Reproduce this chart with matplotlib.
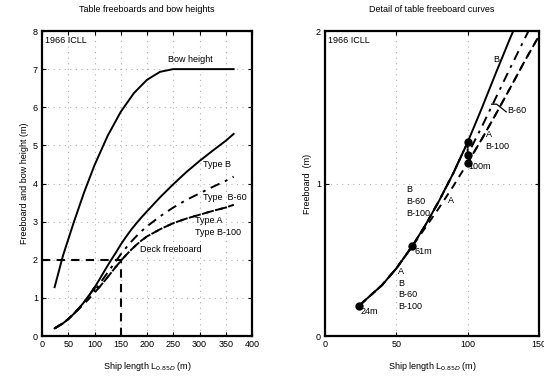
import matplotlib
matplotlib.use("Agg")
import matplotlib.pyplot as plt

plt.rcParams['font.family'] = ['Liberation Sans', 'DejaVu Sans']
plt.rcParams['font.size'] = 6.5

# ship length (m)
length = [24, 30, 40, 50, 61, 70, 80, 90, 100, 110, 120, 130, 140, 150,
          160, 170, 180, 190, 200, 225, 250, 275, 300, 325, 350, 365]
# bow height (m)
bow_length = [24, 40, 60, 80, 100, 125, 150, 175, 200, 225, 250, 300, 365]
bow_height = [1.28, 2.11, 2.96, 3.76, 4.48, 5.25, 5.88, 6.37, 6.72, 6.93, 7.0, 7.0, 7.0]
# table freeboards (m)
type_b = [0.200, 0.250, 0.334, 0.443, 0.587, 0.721, 0.887, 1.069, 1.271, 1.496,
          1.730, 1.958, 2.171, 2.400, 2.600, 2.790, 2.960, 3.120, 3.270, 3.64,
          3.98, 4.30, 4.59, 4.86, 5.12, 5.30]
type_a = [0.200, 0.250, 0.334, 0.443, 0.587, 0.706, 0.841, 0.984, 1.135, 1.293,
          1.459, 1.630, 1.803, 1.968, 2.122, 2.264, 2.394, 2.511, 2.612, 2.80,
          2.96, 3.08, 3.18, 3.28, 3.37, 3.44]
# B-60 / B-100 jump at 100 m
reduced_length = [24, 30, 40, 50, 61, 70, 80, 90, 100, 100, 110, 120, 130, 140,
                  150, 160, 170, 180, 190, 200, 225, 250, 275, 300, 325, 350, 365]
type_b60 = [0.200, 0.250, 0.334, 0.443, 0.587, 0.721, 0.887, 1.069, 1.271, 1.189,
            1.374, 1.567, 1.761, 1.950, 2.141, 2.313, 2.474, 2.620, 2.755, 2.875,
            3.14, 3.37, 3.57, 3.74, 3.91, 4.07, 4.18]
type_b100 = [0.200, 0.250, 0.334, 0.443, 0.587, 0.721, 0.887, 1.069, 1.271, 1.135,
             1.293, 1.459, 1.630, 1.803, 1.968, 2.122, 2.264, 2.394, 2.511, 2.612,
             2.80, 2.96, 3.08, 3.18, 3.28, 3.37, 3.44]
# marked points on the detail plot
mark_length = [24, 61, 100, 100, 100]
mark_freeboard = [0.200, 0.587, 1.271, 1.189, 1.135]

fig = plt.figure(figsize=(5.44, 3.78), dpi=100)
ax1 = fig.add_axes([42 / 544, 42 / 378, 210 / 544, 305 / 378])
ax2 = fig.add_axes([325 / 544, 42 / 378, 214 / 544, 305 / 378])

grid_kw = dict(color='#b0b0b0', linestyle=(0, (1, 4)), linewidth=0.8)


def draw_curves(ax):
    ax.plot(length, type_b, color='black', lw=1.4, ls='-')
    ax.plot(reduced_length, type_b60, color='black', lw=1.4, ls=(0, (5, 3, 1.5, 3)))
    ax.plot(length, type_a, color='black', lw=1.4, ls=(0, (4, 3)))
    ax.plot(reduced_length, type_b100, color='black', lw=1.4, ls=(0, (4, 3)))


def style_axes(ax):
    ax.grid(True, **grid_kw)
    ax.tick_params(direction='in', length=3, width=0.8, labelsize=6.5, pad=3,
                   top=True, right=True)
    for s in ax.spines.values():
        s.set_linewidth(1.6)


# left panel
draw_curves(ax1)
ax1.plot(bow_length, bow_height, color='black', lw=1.4)
ax1.plot([0, 150], [2, 2], color='black', lw=1.5, ls=(0, (4, 3)))
ax1.plot([150, 150], [0, 2], color='black', lw=1.5, ls=(0, (4, 3)))
ax1.set_xlim(0, 400)
ax1.set_ylim(0, 8)
ax1.set_xticks(range(0, 401, 50))
ax1.set_yticks(range(0, 9))
style_axes(ax1)
ax1.set_title('Table freeboards and bow heights', fontsize=6.5, pad=14)
ax1.set_xlabel('Ship length L$_{0.85D}$ (m)', fontsize=6.5, labelpad=8)
ax1.set_ylabel('Freeboard and bow height (m)', fontsize=6.5, labelpad=3)
ax1.text(5, 7.88, '1966 ICLL', va='top', ha='left')
ax1.text(240, 7.25, 'Bow height', va='center', ha='left')
ax1.text(306, 4.49, 'Type B', va='center', ha='left')
ax1.text(306, 3.64, 'Type  B-60', va='center', ha='left')
ax1.text(291, 3.02, 'Type A', va='center', ha='left')
ax1.text(291, 2.71, 'Type B-100', va='center', ha='left')
ax1.text(187, 2.27, 'Deck freeboard', va='center', ha='left')

# right panel
draw_curves(ax2)
ax2.plot(mark_length, mark_freeboard, 'o', color='black', ms=5)
ax2.plot([116.8, 120.3, 127.0], [1.52, 1.52, 1.47], color='black', lw=0.9)
ax2.set_xlim(0, 150)
ax2.set_ylim(0, 2)
ax2.set_xticks([0, 50, 100, 150])
ax2.set_yticks([0, 1, 2])
style_axes(ax2)
ax2.set_title('Detail of table freeboard curves', fontsize=6.5, pad=14)
ax2.set_xlabel('Ship length L$_{0.85D}$ (m)', fontsize=6.5, labelpad=8)
ax2.set_ylabel('Freeboard  (m)', fontsize=6.5, labelpad=3)
ax2.text(2, 1.97, '1966 ICLL', va='top', ha='left')
ax2.text(118, 1.81, 'B', va='center', ha='left')
ax2.text(127.5, 1.48, 'B-60', va='center', ha='left')
ax2.text(112.5, 1.32, 'A', va='center', ha='left')
ax2.text(112, 1.24, 'B-100', va='center', ha='left')
ax2.text(100.5, 1.11, '100m', va='center', ha='left')
ax2.text(57, 0.96, 'B', va='center', ha='left')
ax2.text(57, 0.88, 'B-60', va='center', ha='left')
ax2.text(57, 0.80, 'B-100', va='center', ha='left')
ax2.text(86.5, 0.89, 'A', va='center', ha='left')
ax2.text(63, 0.557, '61m', va='center', ha='left')
ax2.text(51, 0.42, 'A', va='center', ha='left')
ax2.text(51, 0.345, 'B', va='center', ha='left')
ax2.text(51, 0.269, 'B-60', va='center', ha='left')
ax2.text(51, 0.192, 'B-100', va='center', ha='left')
ax2.text(25, 0.16, '24m', va='center', ha='left')

fig.savefig('out.png', dpi=100)
